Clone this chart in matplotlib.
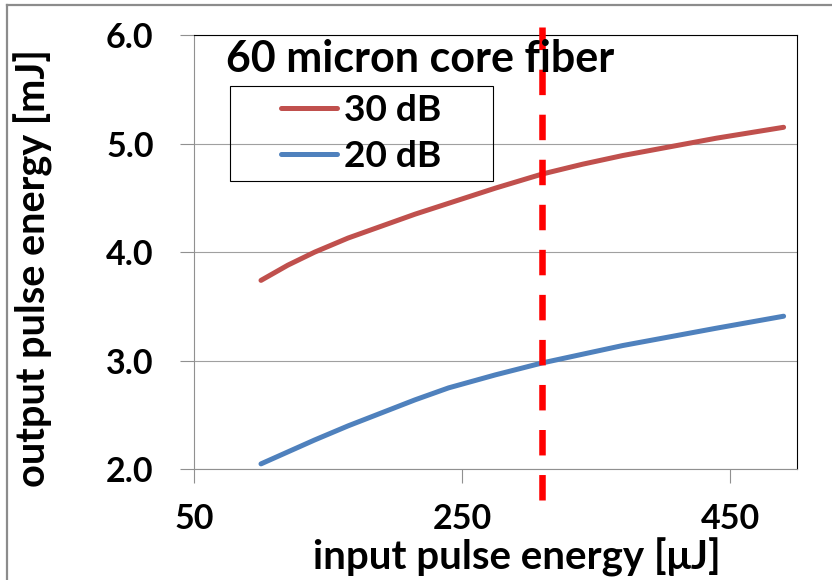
import matplotlib
matplotlib.use('Agg')
import matplotlib.pyplot as plt
from matplotlib.lines import Line2D
from matplotlib.patches import Rectangle

# 字体设置（类似 Calibri 的粗体）
plt.rcParams['font.family'] = ['Lato', 'DejaVu Sans']
plt.rcParams['font.weight'] = 'bold'

# === 数据 ===
x_in = [100, 120, 140, 165, 190, 215, 240, 275, 310, 340, 370, 405, 440, 490]   # input pulse energy [uJ]
out_30dB = [3.74, 3.88, 4.00, 4.13, 4.24, 4.35, 4.45, 4.59, 4.72, 4.81, 4.89, 4.97, 5.05, 5.15]
out_20dB = [2.05, 2.16, 2.27, 2.40, 2.52, 2.64, 2.75, 2.87, 2.98, 3.06, 3.14, 3.22, 3.30, 3.41]
x_ref = 310
x_ticks = [50, 250, 450]
y_ticks = [2.0, 3.0, 4.0, 5.0, 6.0]
series_labels = ['30 dB', '20 dB']
title_text = '60 micron core fiber'

W, H = 832, 580
fig = plt.figure(figsize=(W / 100, H / 100), dpi=100)
ax = fig.add_axes([194 / W, 1 - 469.3 / H, (797 - 194) / W, (469.3 - 35) / H])

# 曲线
ax.plot(x_in, out_30dB, color='#C0504D', lw=3.6, solid_capstyle='round',
        solid_joinstyle='round', label=series_labels[0])
ax.plot(x_in, out_20dB, color='#4F81BD', lw=3.6, solid_capstyle='round',
        solid_joinstyle='round', label=series_labels[1])

# 红色虚线（超出坐标区）
ax.axvline(x_ref, ymin=-0.0707, ymax=1.0184, color='#FF0000', lw=4.7,
           dashes=(3.9, 3.0), dash_capstyle='butt', clip_on=False, zorder=4)

ax.set_xlim(50, 500)
ax.set_ylim(2, 6)
ax.set_xticks(x_ticks)
ax.set_yticks(y_ticks)
ax.set_yticklabels([f'{v:.1f}' for v in y_ticks])

ax.set_axisbelow(True)
ax.yaxis.grid(True, color='#A0A0A0', lw=0.8)

for side in ['left', 'bottom']:
    ax.spines[side].set_color('#909090')
    ax.spines[side].set_linewidth(0.8)
for side in ['top', 'right']:
    ax.spines[side].set_color('black')
    ax.spines[side].set_linewidth(0.8)

ax.tick_params(direction='out', length=10, width=0.8, color='#909090', labelsize=24.5)
ax.tick_params(axis='y', pad=19)
ax.tick_params(axis='x', pad=14)

# 标题与坐标轴标签
fig.text(226 / W, 1 - 71.7 / H, title_text, fontsize=31, ha='left', va='baseline')
fig.text(517 / W, 1 - 557 / H, 'input pulse energy [μJ]', fontsize=29, ha='center', va='center')
fig.text(33 / W, 1 - 268.5 / H, 'output pulse energy [mJ]', fontsize=28.5, rotation=90,
         ha='center', va='center')

# 图例
ax.legend(loc='center', bbox_to_anchor=(361.5 / W, 1 - 133.5 / H), bbox_transform=fig.transFigure,
          frameon=False, fontsize=26.7, handlelength=1.5, handletextpad=0.2,
          labelspacing=0.34, borderpad=0, borderaxespad=0)
fig.add_artist(Rectangle((230 / W, 1 - 181 / H), 263 / W, 95 / H, transform=fig.transFigure,
                         fill=False, edgecolor='black', lw=0.8))

# 外框
fig.add_artist(Line2D([7 / W, 1], [1 - 5 / H, 1 - 5 / H], color='#8C8C8C', lw=1.6))
fig.add_artist(Line2D([7 / W, 7 / W], [0, 1 - 5 / H], color='#8C8C8C', lw=1.6))

plt.savefig('out.png', dpi=100)
